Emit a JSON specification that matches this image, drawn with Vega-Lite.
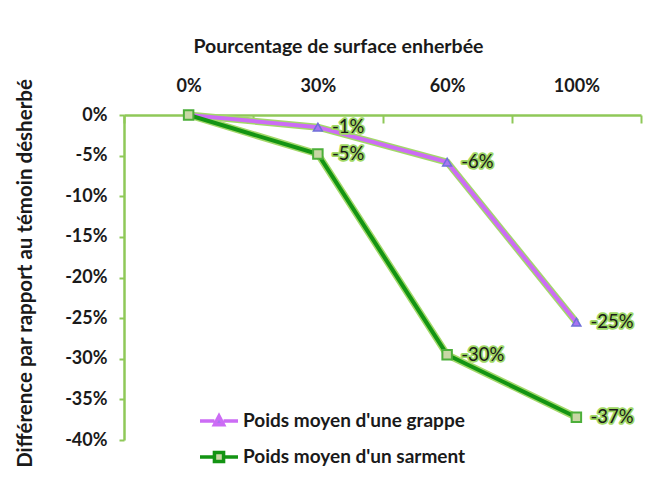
{
  "$schema": "https://vega.github.io/schema/vega-lite/v6.json",
  "width": 517,
  "height": 325,
  "autosize": {"type": "none"},
  "padding": {"left": 124, "top": 115, "right": 31, "bottom": 57},
  "background": "white",
  "config": {"font": "Lato", "view": {"stroke": null}},
  "data": {
    "values": [
      {"surface": "0%", "serie": "Poids moyen d'une grappe", "diff": 0, "label": ""},
      {"surface": "30%", "serie": "Poids moyen d'une grappe", "diff": -1.5, "label": "-1%"},
      {"surface": "60%", "serie": "Poids moyen d'une grappe", "diff": -5.8, "label": "-6%"},
      {"surface": "100%", "serie": "Poids moyen d'une grappe", "diff": -25.5, "label": "-25%"},
      {"surface": "0%", "serie": "Poids moyen d'un sarment", "diff": 0, "label": ""},
      {"surface": "30%", "serie": "Poids moyen d'un sarment", "diff": -4.8, "label": "-5%"},
      {"surface": "60%", "serie": "Poids moyen d'un sarment", "diff": -29.5, "label": "-30%"},
      {"surface": "100%", "serie": "Poids moyen d'un sarment", "diff": -37.2, "label": "-37%"}
    ]
  },
  "encoding": {
    "x": {
      "field": "surface",
      "type": "ordinal",
      "sort": ["0%", "30%", "60%", "100%"],
      "scale": {"type": "band", "paddingInner": 0, "paddingOuter": 0},
      "axis": {
        "orient": "top",
        "title": "Pourcentage de surface enherbée",
        "titleFont": "Lato",
        "titleFontSize": 19.5,
        "titleFontWeight": "bold",
        "titleColor": "#1a1a1a",
        "titleX": 214,
        "titleY": -69,
        "titleAlign": "center",
        "titleBaseline": "middle",
        "labelAngle": 0,
        "labelFontSize": 18,
        "labelFontWeight": "bold",
        "labelColor": "#1a1a1a",
        "labelPadding": 28,
        "tickBand": "extent",
        "tickSize": -8,
        "tickColor": "#8fc858",
        "tickWidth": 2,
        "domainColor": "#8fc858",
        "domainWidth": 2.5,
        "grid": false
      }
    },
    "y": {
      "field": "diff",
      "type": "quantitative",
      "scale": {"domain": [-40, 0], "nice": false},
      "axis": {
        "title": "Différence par rapport au témoin désherbé",
        "titleFontSize": 20.5,
        "titleFontWeight": "bold",
        "titleColor": "#1a1a1a",
        "titleX": -99,
        "titleY": 158,
        "titleAlign": "center",
        "titleBaseline": "middle",
        "values": [0, -5, -10, -15, -20, -25, -30, -35, -40],
        "labelExpr": "datum.value + '%'",
        "labelFontSize": 18,
        "labelFontWeight": "bold",
        "labelColor": "#1a1a1a",
        "labelPadding": 12,
        "tickSize": 5,
        "tickColor": "#8fc858",
        "tickWidth": 2,
        "domainColor": "#8fc858",
        "domainWidth": 2.5,
        "grid": false
      }
    }
  },
  "layer": [
    {
      "mark": {"type": "line", "strokeWidth": 7, "color": "#a3d86a", "strokeJoin": "miter"},
      "encoding": {"detail": {"field": "serie"}}
    },
    {
      "mark": {"type": "line", "strokeWidth": 4, "strokeJoin": "miter"},
      "encoding": {
        "color": {
          "field": "serie",
          "type": "nominal",
          "scale": {
            "domain": ["Poids moyen d'une grappe", "Poids moyen d'un sarment"],
            "range": ["#cc6cf5", "#139413"]
          },
          "legend": {
            "orient": "none",
            "legendX": 74,
            "legendY": 285,
            "title": null,
            "labelFontSize": 19,
            "labelFontWeight": "bold",
            "labelColor": "#1a1a1a",
            "labelFont": "Lato",
            "labelLimit": 400,
            "symbolSize": 1444,
            "symbolStrokeWidth": 3.5,
            "rowPadding": 4,
            "labelOffset": 3,
            "encode": {
              "symbols": {
                "update": {
                  "shape": {"signal": "datum.value == \"Poids moyen d'une grappe\" ? 'M-1,0H-0.24M0.24,0H1M-0.24,0.2L0,-0.26L0.24,0.2Z' : 'M-1,0H-0.24M0.24,0H1M-0.24,-0.24H0.24V0.24H-0.24Z'"},
                  "fill": {"signal": "datum.value == \"Poids moyen d'une grappe\" ? '#a874f2' : '#c8d7a5'"},
                  "strokeWidth": {"value": 3.5}
                }
              }
            }
          }
        }
      }
    },
    {
      "transform": [{"filter": {"field": "serie", "equal": "Poids moyen d'une grappe"}}],
      "mark": {"type": "point", "shape": "triangle-up", "filled": true, "fill": "#a874f2", "stroke": "#6f6fd8", "strokeWidth": 1.5, "size": 80, "opacity": 1},
      "encoding": {}
    },
    {
      "transform": [{"filter": {"field": "serie", "equal": "Poids moyen d'un sarment"}}],
      "mark": {"type": "point", "shape": "square", "filled": true, "fill": "#c8d7a5", "stroke": "#4caf3a", "strokeWidth": 2, "size": 90, "opacity": 1},
      "encoding": {}
    },
    {
      "transform": [{"filter": "datum.label != ''"}],
      "mark": {"type": "text", "align": "left", "baseline": "middle", "dx": 14, "fontSize": 18.5, "stroke": "#9fd864", "strokeWidth": 3.5, "strokeJoin": "round", "fill": "#9fd864"},
      "encoding": {"text": {"field": "label"}}
    },
    {
      "transform": [{"filter": "datum.label != ''"}],
      "mark": {"type": "text", "align": "left", "baseline": "middle", "dx": 14, "fontSize": 18.5, "fill": "#1a1a1a"},
      "encoding": {"text": {"field": "label"}}
    }
  ]
}
